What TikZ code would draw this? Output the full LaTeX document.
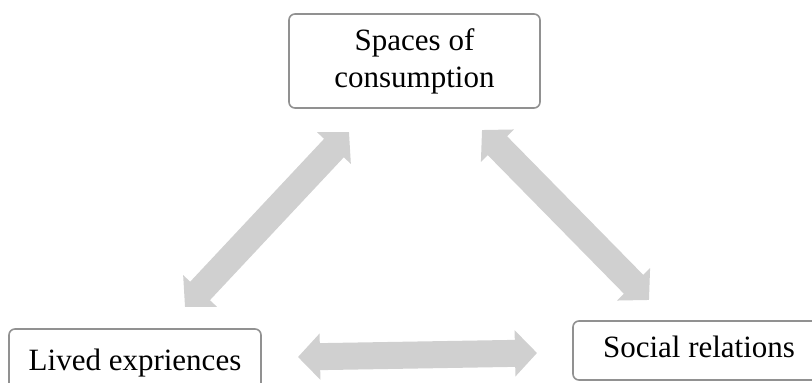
\documentclass[tikz,border=0pt]{standalone}
\usepackage{fontspec}
\setmainfont{Liberation Serif}
\usetikzlibrary{arrows.meta}
\definecolor{arrowgray}{RGB}{208,208,208}
\definecolor{boxgray}{RGB}{145,145,145}
\tikzset{
  box/.style={draw=boxgray, line width=1.6pt, rounded corners=6pt, fill=white,
    inner sep=0pt, align=center, font=\fontsize{31}{37}\selectfont},
  biarrow/.style={draw=arrowgray, line width=27pt,
    {Triangle[width=45pt,length=22pt]}-{Triangle[width=45pt,length=22pt]}}
}
\begin{document}
\begin{tikzpicture}[x=1pt,y=-1pt]
\clip (0,0) rectangle (812,383);
\fill[white] (0,0) rectangle (812,383);
\node[box, minimum width=251pt, minimum height=94pt] (spaces) at (414.5,61) {Spaces of\\consumption};
\node[box, minimum width=252pt, minimum height=69pt, text height=19pt, text depth=6pt] (lived) at (135,363.5) {Lived expriences};
\node[box, minimum width=252pt, minimum height=59pt, text height=19pt, text depth=6pt] (social) at (699,350.5) {Social relations};
\coordinate (l1) at (349,132);
\coordinate (l2) at (185,307);
\coordinate (r1) at (482,130);
\coordinate (r2) at (649,300);
\coordinate (h1) at (298,357);
\coordinate (h2) at (537,353);
\draw[biarrow] (l1) -- (l2);
\draw[biarrow] (r1) -- (r2);
\draw[biarrow] (h1) -- (h2);
\end{tikzpicture}
\end{document}
